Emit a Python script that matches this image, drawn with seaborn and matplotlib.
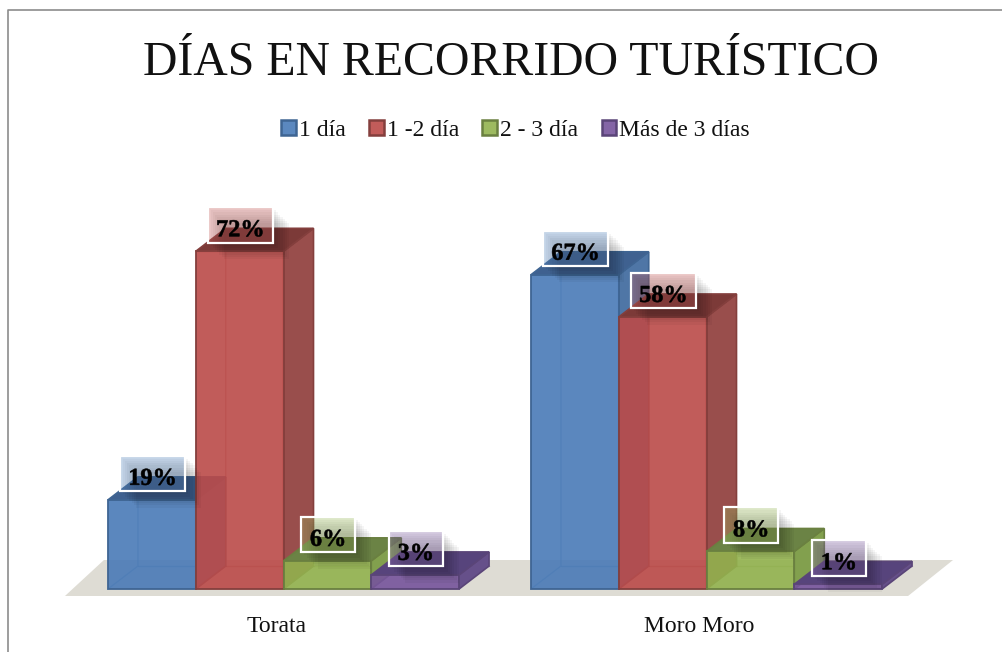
import matplotlib
matplotlib.use('Agg')
import matplotlib.pyplot as plt
import matplotlib.patches as mpatches
import matplotlib.patheffects as pe
from matplotlib.colors import to_rgba
from matplotlib.transforms import IdentityTransform, ScaledTranslation
import pandas as pd
import seaborn as sns

# datos
lugares = ['Torata', 'Moro Moro']
dias = ['1 día', '1 -2 día', '2 - 3 día', 'Más de 3 días']
torata = [19, 72, 6, 3]
moro_moro = [67, 58, 8, 1]

colores = ['#5B88BF', '#C25C5A', '#9DBA60', '#8465A6']
frentes = ['#497AB7', '#BB4A48', '#92B24E', '#76549C']
bordes = ['#3F6593', '#843F3D', '#6A8040', '#5A4578']
tapas = ['#3F6190', '#7C3A38', '#6B8345', '#57447C']
lados = ['#4F76A6', '#994E4C', '#82A04E', '#66508A']

sns.set_style('white')
plt.rcParams['font.family'] = ['Liberation Serif', 'DejaVu Serif']

df = pd.DataFrame({
    'lugar': [l for l in lugares for _ in dias],
    'dias': dias * 2,
    'pct': torata + moro_moro,
})

W, H = 1002, 652
fig = plt.figure(figsize=(W / 100, H / 100), dpi=100)
ax = fig.add_axes([72 / W, (H - 589) / H, 846 / W, 375.2 / H])

sns.barplot(data=df, x='lugar', y='pct', hue='dias', hue_order=dias, order=lugares,
            palette=colores, saturation=1, width=0.83, gap=0, errorbar=None, ax=ax,
            linewidth=1.5, edgecolor='#375A85')
ax.set_xlim(-0.5, 1.5)
ax.set_ylim(0, 80)
ax.set_xlabel('')
ax.set_ylabel('')
ax.set_yticks([])
ax.tick_params(axis='x', length=0, pad=19.5, labelsize=17, labelcolor='#111111')
sns.despine(ax=ax, left=True, bottom=True)
ax.patch.set_alpha(0)

# profundidad 3D en unidades de datos
dx = 30 / 423
dy = 23 / 4.69

# piso
primeros = ax.containers[0].patches
ultimos = ax.containers[-1].patches
x0 = min(p.get_x() for p in primeros)
x1 = max(p.get_x() + p.get_width() for p in ultimos)
y_low = -7 / 4.69
y_up = 29 / 4.69
ax.add_patch(mpatches.Polygon([(x0 - 43 / 423, y_low), (x0 - 4 / 423, y_up), (x1 + 71 / 423, y_up),
                               (x1 + 26 / 423, y_low)],
                              closed=True, fc='#DEDCD4', ec='none', zorder=1, clip_on=False))

etiquetas = []
for i, cont in enumerate(ax.containers):
    for j, bar in enumerate(cont.patches):
        x = bar.get_x()
        w = bar.get_width()
        h = bar.get_height()
        z = 10 + (j * 4 + i) * 5
        b = bordes[i]
        # lineas de atras
        ax.plot([x, x + dx, x + dx], [0, dy, h + dy], color=b, lw=1, alpha=0.45, zorder=z, clip_on=False)
        ax.plot([x + dx, x + w + dx], [dy, dy], color=b, lw=1, alpha=0.45, zorder=z, clip_on=False)
        # lado y tapa
        ax.add_patch(mpatches.Polygon([(x + w, 0), (x + w + dx, dy), (x + w + dx, h + dy), (x + w, h)],
                                      closed=True, fc=lados[i], ec=b, lw=1.2, zorder=z + 1, clip_on=False))
        ax.add_patch(mpatches.Polygon([(x, h), (x + dx, h + dy), (x + w + dx, h + dy), (x + w, h)],
                                      closed=True, fc=tapas[i], ec=b, lw=1.2, zorder=z + 2, clip_on=False))
        # cara frontal
        bar.set_facecolor(to_rgba(frentes[i], 0.9))
        bar.set_edgecolor(b)
        bar.set_linewidth(1.3)
        bar.set_zorder(z + 3)
        bar.set_clip_on(False)

        # etiqueta
        txt = ax.annotate('{}%'.format(int(h)), (x + w / 2, h), xytext=(0.5, 14.8), textcoords='offset points',
                          ha='center', va='center', fontsize=17.5, fontweight='bold', color='black',
                          zorder=120, annotation_clip=False,
                          path_effects=[pe.Stroke(linewidth=0.4, foreground='black')])
        etiquetas.append((txt, colores[i]))

# caja y sombra de cada etiqueta, medidas sobre el texto ya dibujado
fig.canvas.draw()
renderer = fig.canvas.get_renderer()
for txt, c in etiquetas:
    ext = txt.get_window_extent(renderer)
    bx = ext.x0 - 8.5
    by = ext.y0 - 1.5
    bw = ext.width + 17
    bh = ext.height + 14.5
    for k in range(7):
        ax.add_patch(mpatches.Rectangle((bx + 3 + k * 2.2, by - 3 - k * 2.2), bw, bh, fc=(0, 0, 0, 0.04), ec='none',
                                        transform=IdentityTransform(), zorder=70 + k, clip_on=False))
    ax.add_patch(mpatches.Rectangle((bx, by), bw, bh, fc=to_rgba(c, 0.36), ec='white', lw=1.6,
                                    transform=IdentityTransform(), zorder=100, clip_on=False))

# etiquetas del eje un poco a la izquierda
shift = ScaledTranslation(-7 / 100, 0, fig.dpi_scale_trans)
for lbl in ax.get_xticklabels():
    lbl.set_transform(lbl.get_transform() + shift)

# leyenda
sns.move_legend(ax, 'center', bbox_to_anchor=(515.5 / W, 1 - 130 / H), bbox_transform=fig.transFigure,
                ncol=4, title=None, frameon=False, fontsize=17, handlelength=0.62, handleheight=0.62,
                handletextpad=0.12, columnspacing=1.0, labelcolor='#111111')
leg = ax.get_legend()
for patch, borde in zip(leg.get_patches(), bordes):
    patch.set_edgecolor(borde)
    patch.set_linewidth(1.8)

fig.text(511 / W, 1 - 63 / H, 'DÍAS EN RECORRIDO TURÍSTICO', ha='center', va='center',
         fontsize=34.4, color='#111111')

# marco: arriba e izquierda, nada a la derecha
fig.add_artist(plt.Line2D([8 / W, 8 / W, 1], [0, 1 - 10 / H, 1 - 10 / H],
                          color='#8c8c8c', lw=1.2, transform=fig.transFigure))

fig.savefig('out.png', dpi=100)
